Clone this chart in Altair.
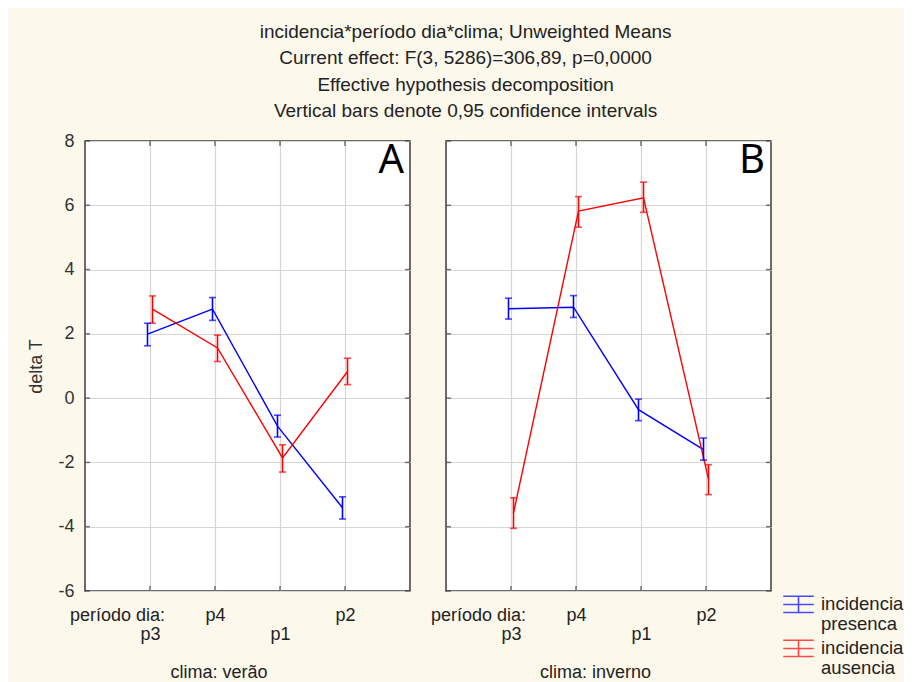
import altair as alt
import pandas as pd

periods = ["p3", "p4", "p1", "p2"]
groups = ["incidencia presenca", "incidencia ausencia"]
group_colors = ["#0000ff", "#ff0000"]
climas = ["verão", "inverno"]
panel_letters = ["A", "B"]
y_ticks = [-6, -4, -2, 0, 2, 4, 6, 8]

title_lines = [
    "incidencia*período dia*clima; Unweighted Means",
    "Current effect: F(3, 5286)=306,89, p=0,0000",
    "Effective hypothesis decomposition",
    "Vertical bars denote 0,95 confidence intervals",
]

# clima: verão
verao_presenca_mean = [1.99, 2.77, -0.87, -3.41]
verao_presenca_lo = [1.63, 2.42, -1.21, -3.76]
verao_presenca_hi = [2.33, 3.13, -0.53, -3.07]
verao_ausencia_mean = [2.77, 1.56, -1.86, 0.83]
verao_ausencia_lo = [2.33, 1.14, -2.30, 0.42]
verao_ausencia_hi = [3.18, 1.96, -1.45, 1.24]

# clima: inverno
inverno_presenca_mean = [2.78, 2.83, -0.36, -1.60]
inverno_presenca_lo = [2.46, 2.51, -0.70, -1.93]
inverno_presenca_hi = [3.11, 3.19, -0.03, -1.24]
inverno_ausencia_mean = [-3.57, 5.82, 6.23, -2.52]
inverno_ausencia_lo = [-4.05, 5.32, 5.78, -3.00]
inverno_ausencia_hi = [-3.10, 6.27, 6.72, -2.07]

series = {
    ("verão", groups[0]): (verao_presenca_mean, verao_presenca_lo, verao_presenca_hi),
    ("verão", groups[1]): (verao_ausencia_mean, verao_ausencia_lo, verao_ausencia_hi),
    ("inverno", groups[0]): (inverno_presenca_mean, inverno_presenca_lo, inverno_presenca_hi),
    ("inverno", groups[1]): (inverno_ausencia_mean, inverno_ausencia_lo, inverno_ausencia_hi),
}

rows = []
for (clima, grupo), (m, lo, hi) in series.items():
    for p, a, b, c in zip(periods, m, lo, hi):
        rows.append({"clima": clima, "grupo": grupo, "periodo": p, "mean": a, "lo": b, "hi": c})
df = pd.DataFrame(rows)

FONT = "Liberation Sans, Arial, sans-serif"
W, H = 325, 450
GRID = "#d6d6d6"
FRAME = "#3c3c3c"

y_scale = alt.Scale(domain=[-6, 8], nice=False, zero=False)
x_scale = alt.Scale(type="point", padding=1)
off_scale = alt.Scale(domain=groups, range=[-5, 5])
color_scale = alt.Scale(domain=groups, range=group_colors)

legend = alt.Legend(
    title=None,
    orient="none",
    legendX=697,
    legendY=452,
    symbolType="M-1,-0.87H1M-1,-0.33H1M-1,0.2H1M0,-0.87V0.2",
    symbolSize=930,
    symbolStrokeWidth=1.6,
    labelExpr="split(datum.label, ' ')",
    labelFontSize=18.5,
    labelBaseline="alphabetic",
    labelColor="#222222",
    labelOffset=6,
    labelLimit=200,
    rowPadding=3,
)


def panel(clima, letter, show_y, title_dx, title_frame):
    d = df[df["clima"] == clima]
    x_axis = alt.Axis(
        labelExpr="(datum.value == 'p3' || datum.value == 'p1') ? ['', datum.value] : datum.value",
        labelFontSize=18,
        labelLineHeight=19.3,
        labelPadding=15.5,
        labelAngle=0,
        labelOverlap=False,
        labelColor="#222222",
        ticks=False,
        domain=False,
        grid=True,
        gridColor=GRID,
        gridWidth=1.2,
        title="período dia:",
        titleX=32,
        titleY=15.5,
        titleAlign="center",
        titleBaseline="top",
        titleFontSize=18,
        titleFontWeight="normal",
        titleColor="#222222",
    )
    if show_y:
        y_axis = alt.Axis(
            values=y_ticks,
            labelExpr="toString(datum.value)",
            labelFontSize=18,
            labelPadding=11,
            labelColor="#333333",
            ticks=False,
            domain=False,
            grid=True,
            gridColor=GRID,
            gridWidth=1.2,
            title="delta T",
            titleFontSize=18,
            titleFontWeight="normal",
            titleColor="#333333",
            titlePadding=12,
        )
    else:
        y_axis = alt.Axis(values=y_ticks, labels=False, ticks=False, domain=False,
                          grid=True, gridColor=GRID, gridWidth=1.2, title=None, minExtent=0)

    X = alt.X("periodo:N", sort=periods, scale=x_scale, axis=x_axis)
    XO = alt.XOffset("grupo:N", scale=off_scale)
    C = alt.Color("grupo:N", scale=color_scale, legend=legend)

    def Y(field):
        return alt.Y(f"{field}:Q", scale=y_scale, axis=y_axis)

    base = alt.Chart(d)
    lines = base.mark_line(strokeWidth=1.4).encode(x=X, xOffset=XO, y=Y("mean"), color=C)
    bars = base.mark_rule(strokeWidth=1.6).encode(x=X, xOffset=XO, y=Y("lo"), y2="hi:Q", color=C)
    cap_lo = base.mark_tick(orient="horizontal", size=7, thickness=1.6).encode(
        x=X, xOffset=XO, y=Y("lo"), color=C)
    cap_hi = base.mark_tick(orient="horizontal", size=7, thickness=1.6).encode(
        x=X, xOffset=XO, y=Y("hi"), color=C)

    yt = alt.Chart(pd.DataFrame({"v": y_ticks}))
    tick_l = yt.mark_tick(orient="horizontal", size=5, thickness=1.5, color=FRAME).encode(
        y=Y("v"), x=alt.value(2.5))
    tick_r = yt.mark_tick(orient="horizontal", size=5, thickness=1.5, color=FRAME).encode(
        y=Y("v"), x=alt.value(W - 2.5))
    xt = alt.Chart(pd.DataFrame({"periodo": periods}))
    tick_t = xt.mark_tick(orient="vertical", size=5, thickness=1.5, color=FRAME).encode(
        x=X, y=alt.value(2.5))
    tick_b = xt.mark_tick(orient="vertical", size=5, thickness=1.5, color=FRAME).encode(
        x=X, y=alt.value(H - 2.5))

    letter_layer = alt.Chart(pd.DataFrame({"t": [letter]})).mark_text(
        align="right", baseline="top", fontSize=40, font="Noto Sans, Liberation Sans, sans-serif",
        color="black"
    ).encode(text="t:N", x=alt.value(W - 6), y=alt.value(0))

    return alt.layer(
        tick_l, tick_r, tick_t, tick_b, lines, bars, cap_lo, cap_hi, letter_layer
    ).properties(
        width=W,
        height=H,
        title=alt.TitleParams(
            f"clima: {clima}", orient="bottom", anchor="middle", frame=title_frame,
            fontSize=18, fontWeight="normal", color="#222222", offset=20, dx=title_dx,
        ),
    )


left = panel(climas[0], panel_letters[0], True, 0, "bounds")
right = panel(climas[1], panel_letters[1], False, -13, "group")

chart = alt.hconcat(left, right, spacing=18).properties(
    title=alt.TitleParams(
        title_lines, anchor="middle", frame="bounds", fontSize=19, fontWeight="normal",
        lineHeight=26.5, color="#222222", offset=10,
    ),
    padding={"left": 19, "top": 14, "right": 0, "bottom": 0},
    background="#fdf8ec",
).resolve_scale(color="shared").configure(font=FONT).configure_view(
    stroke=FRAME, strokeWidth=1.5, fill="white"
)

chart.save("out.html", embed_options={"renderer": "svg", "actions": False})
